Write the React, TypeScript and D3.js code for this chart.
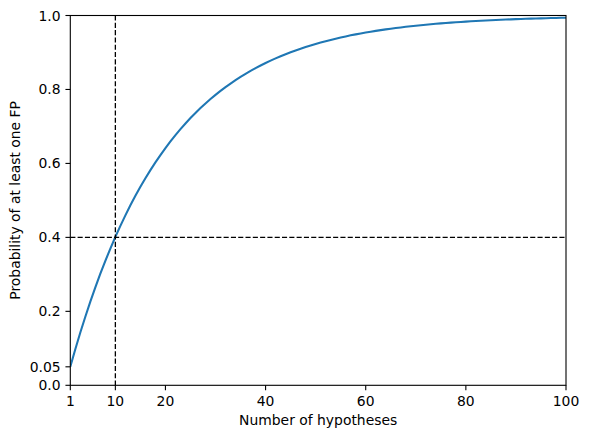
import React from "react";
import * as d3 from "d3";

const hypotheses: number[] = Array.from({ length: 100 }, (_, i) => i + 1);
const probAtLeastOneFP: number[] = [
  0.05, 0.0975, 0.1426, 0.1855, 0.2262, 0.2649, 0.3017, 0.3366, 0.3698, 0.4013,
  0.4312, 0.4596, 0.4867, 0.5123, 0.5367, 0.5599, 0.5819, 0.6028, 0.6226, 0.6415,
  0.6594, 0.6765, 0.6926, 0.708, 0.7226, 0.7365, 0.7497, 0.7622, 0.7741, 0.7854,
  0.7961, 0.8063, 0.816, 0.8252, 0.8339, 0.8422, 0.8501, 0.8576, 0.8647, 0.8715,
  0.8779, 0.884, 0.8898, 0.8953, 0.9006, 0.9055, 0.9103, 0.9147, 0.919, 0.9231,
  0.9269, 0.9306, 0.934, 0.9373, 0.9405, 0.9434, 0.9463, 0.949, 0.9515, 0.9539,
  0.9562, 0.9584, 0.9605, 0.9625, 0.9644, 0.9661, 0.9678, 0.9694, 0.971, 0.9724,
  0.9738, 0.9751, 0.9764, 0.9775, 0.9787, 0.9797, 0.9807, 0.9817, 0.9826, 0.9835,
  0.9843, 0.9851, 0.9858, 0.9865, 0.9872, 0.9879, 0.9885, 0.989, 0.9896, 0.9901,
  0.9906, 0.9911, 0.9915, 0.9919, 0.9923, 0.9927, 0.9931, 0.9934, 0.9938, 0.9941,
];
const xTicks: number[] = [1, 10, 20, 40, 60, 80, 100];
const yTicks: number[] = [0.0, 0.05, 0.2, 0.4, 0.6, 0.8, 1.0];
const yTickLabels: string[] = ["0.0", "0.05", "0.2", "0.4", "0.6", "0.8", "1.0"];
const refX = 10;
const refY = 0.4;

export default function App() {
  const W = 589, H = 438;
  const left = 70.3, right = 566, top = 15.5, bottom = 385.3;
  const x = d3.scaleLinear().domain([1, 100]).range([left, right]);
  const y = d3.scaleLinear().domain([0, 1]).range([bottom, top]);
  const line = d3
    .line<number>()
    .x((_, i) => x(hypotheses[i]))
    .y((d) => y(d));
  const font = "'DejaVu Sans', sans-serif";
  const fs = 13.9;
  const tick = 4.86;
  return (
    <svg width={W} height={H} style={{ position: "absolute", left: 0, top: 0, background: "#fff" }}>
      <rect x={0} y={0} width={W} height={H} fill="#fff" />
      <defs>
        <clipPath id="plotclip">
          <rect x={left} y={top} width={right - left} height={bottom - top} />
        </clipPath>
      </defs>
      <path
        d={line(probAtLeastOneFP) || ""}
        fill="none"
        stroke="#1f77b4"
        strokeWidth={2.08}
        clipPath="url(#plotclip)"
      />
      <line x1={x(refX)} x2={x(refX)} y1={top} y2={bottom} stroke="#000" strokeWidth={1.3} strokeDasharray="5.1,2.2" />
      <line x1={left} x2={right} y1={y(refY)} y2={y(refY)} stroke="#000" strokeWidth={1.3} strokeDasharray="5.1,2.2" />
      <rect x={left} y={top} width={right - left} height={bottom - top} fill="none" stroke="#000" strokeWidth={1.1} />
      {xTicks.map((t) => (
        <g key={"x" + t}>
          <line x1={x(t)} x2={x(t)} y1={bottom} y2={bottom + tick} stroke="#000" strokeWidth={1.1} />
          <text x={x(t)} y={406} textAnchor="middle" fontFamily={font} fontSize={fs}>
            {t}
          </text>
        </g>
      ))}
      {yTicks.map((t, i) => (
        <g key={"y" + i}>
          <line x1={left - tick} x2={left} y1={y(t)} y2={y(t)} stroke="#000" strokeWidth={1.1} />
          <text x={left - tick - 4.86} y={y(t)} dy="0.36em" textAnchor="end" fontFamily={font} fontSize={fs}>
            {yTickLabels[i]}
          </text>
        </g>
      ))}
      <text x={(left + right) / 2} y={425} textAnchor="middle" fontFamily={font} fontSize={fs}>
        Number of hypotheses
      </text>
      <text
        transform={`translate(20, ${(top + bottom) / 2}) rotate(-90)`}
        textAnchor="middle"
        fontFamily={font}
        fontSize={fs}
      >
        Probability of at least one FP
      </text>
    </svg>
  );
}
